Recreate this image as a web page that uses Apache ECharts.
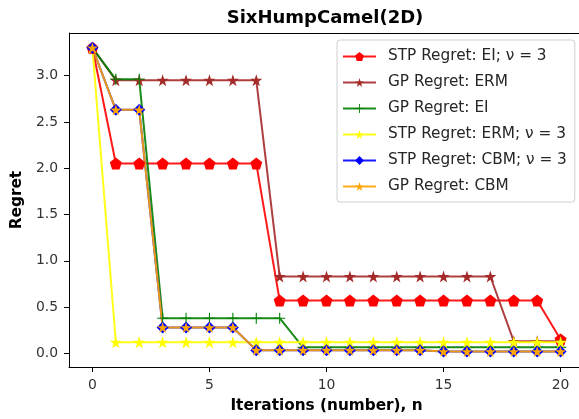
<!DOCTYPE html>
<html>
<head>
<meta charset="utf-8">
<script src="https://cdn.jsdelivr.net/npm/echarts@6/dist/echarts.min.js"></script>
<style>
html,body{margin:0;padding:0;background:#fff;overflow:hidden;}
#c{width:579px;height:419px;}
</style>
</head>
<body>
<div id="c"></div>
<script>
const iterations = [0,1,2,3,4,5,6,7,8,9,10,11,12,13,14,15,16,17,18,19,20];
const stpEI  = [3.30,2.05,2.05,2.05,2.05,2.05,2.05,2.05,0.57,0.57,0.57,0.57,0.57,0.57,0.57,0.57,0.57,0.57,0.57,0.57,0.15];
const gpERM  = [3.30,2.95,2.95,2.95,2.95,2.95,2.95,2.95,0.83,0.83,0.83,0.83,0.83,0.83,0.83,0.83,0.83,0.83,0.13,0.13,0.13];
const gpEI   = [3.30,2.96,2.96,0.38,0.38,0.38,0.38,0.38,0.38,0.065,0.065,0.065,0.065,0.065,0.065,0.065,0.065,0.065,0.065,0.065,0.065];
const stpERM = [3.30,0.12,0.12,0.12,0.12,0.12,0.12,0.12,0.12,0.12,0.12,0.12,0.12,0.12,0.12,0.12,0.12,0.12,0.12,0.12,0.12];
const stpCBM = [3.30,2.63,2.63,0.28,0.28,0.28,0.28,0.035,0.035,0.035,0.035,0.035,0.035,0.035,0.035,0.02,0.02,0.02,0.02,0.02,0.02];
const gpCBM  = [3.30,2.63,2.63,0.28,0.28,0.28,0.28,0.035,0.035,0.035,0.035,0.035,0.035,0.035,0.035,0.02,0.02,0.02,0.02,0.02,0.02];
const xTicks = [0,5,10,15,20];
const yTicks = [0,0.5,1.0,1.5,2.0,2.5,3.0];
const names = ['STP Regret: EI; \u03bd = 3','GP Regret: ERM','GP Regret: EI','STP Regret: ERM; \u03bd = 3','STP Regret: CBM; \u03bd = 3','GP Regret: CBM'];

const STAR = 'path://M0,-100L22.45,-30.9L95.11,-30.9L36.33,11.8L58.78,80.9L0,38.2L-58.78,80.9L-36.33,11.8L-95.11,-30.9L-22.45,-30.9Z';
const PENT = 'path://M0,-100L95.11,-30.9L58.78,80.9L-58.78,80.9L-95.11,-30.9Z';
const PLUS = 'path://M-1,-10L1,-10L1,-1L10,-1L10,1L1,1L1,10L-1,10L-1,1L-10,1L-10,-1L-1,-1Z';
const DIAM = 'path://M0,-10L10,0L0,10L-10,0Z';

const X_MIN = -1, X_MAX = 21, Y_MIN = -0.147, Y_MAX = 3.46;

function pairs(ys){ return iterations.map((x,i)=>[x,ys[i]]); }
function mk(name, ys, color, symbol, size){
  return {
    name, type:'line', data:pairs(ys), symbol, symbolSize:size,
    showAllSymbol:true, animation:false,
    lineStyle:{color, width:2, opacity:0.9},
    itemStyle:{color, opacity:1},
    emphasis:{disabled:true}
  };
}
const chart = echarts.init(document.getElementById('c'), null, {renderer:'canvas'});
const font = 'DejaVu Sans';
chart.setOption({
  backgroundColor:'#fff',
  animation:false,
  textStyle:{fontFamily:font},
  title:{text:'SixHumpCamel(2D)', left:320, top:4, textAlign:'center',
    textStyle:{fontFamily:font, fontSize:18, fontWeight:'bold', color:'#000'}},
  legend:{
    orient:'vertical', left:337, top:40, itemWidth:33, itemHeight:11, itemGap:11,
    padding:[9,8,8,5], borderColor:'#d0d0d0', borderWidth:1, borderRadius:3,
    backgroundColor:'rgba(255,255,255,0.8)',
    textStyle:{fontFamily:font, fontSize:15.3, color:'#262626', padding:[0,0,0,7]},
    data:names
  },
  grid:{left:69, top:33, width:515, height:334, show:false,
    containLabel:false, outerBoundsMode:'none'},
  xAxis:{type:'value', min:X_MIN, max:X_MAX,
    name:'Iterations (number), n', nameLocation:'middle', nameGap:32,
    nameTextStyle:{fontFamily:font, fontSize:15.3, fontWeight:'bold', color:'#000'},
    axisLine:{show:true, onZero:false, lineStyle:{color:'#000'}},
    axisTick:{show:true, inside:false, length:5, lineStyle:{color:'#000'}, customValues:xTicks},
    axisLabel:{fontFamily:font, fontSize:13.9, color:'#333', margin:11, customValues:xTicks},
    splitLine:{show:false}},
  yAxis:{type:'value', min:Y_MIN, max:Y_MAX,
    name:'Regret', nameLocation:'middle', nameGap:44, nameRotate:90,
    nameTextStyle:{fontFamily:font, fontSize:15.3, fontWeight:'bold', color:'#000'},
    axisLine:{show:true, onZero:false, lineStyle:{color:'#000'}},
    axisTick:{show:true, inside:false, length:5, lineStyle:{color:'#000'}, customValues:yTicks},
    axisLabel:{fontFamily:font, fontSize:13.9, color:'#333', margin:11, customValues:yTicks,
      formatter:v=>Number(v).toFixed(1)},
    splitLine:{show:false}},
  series:[
    mk(names[0], stpEI, '#ff0000', PENT, 12),
    mk(names[1], gpERM, '#a52a2a', STAR, 12),
    mk(names[2], gpEI, '#008000', PLUS, 11),
    mk(names[3], stpERM, '#ffff00', STAR, 12),
    mk(names[4], stpCBM, '#0000ff', DIAM, 12),
    mk(names[5], gpCBM, '#ffa500', STAR, 11)
  ]
});
// top spine of the axes frame, positioned through the axis scales
const tl = chart.convertToPixel({gridIndex:0}, [X_MIN, Y_MAX]);
const tr = chart.convertToPixel({gridIndex:0}, [X_MAX, Y_MAX]);
chart.setOption({graphic:[{type:'line', z:1, silent:true,
  shape:{x1:Math.round(tl[0])+0.5, y1:Math.round(tl[1])+0.5, x2:tr[0], y2:Math.round(tr[1])+0.5},
  style:{stroke:'#000', lineWidth:1}}]});
</script>
</body>
</html>
